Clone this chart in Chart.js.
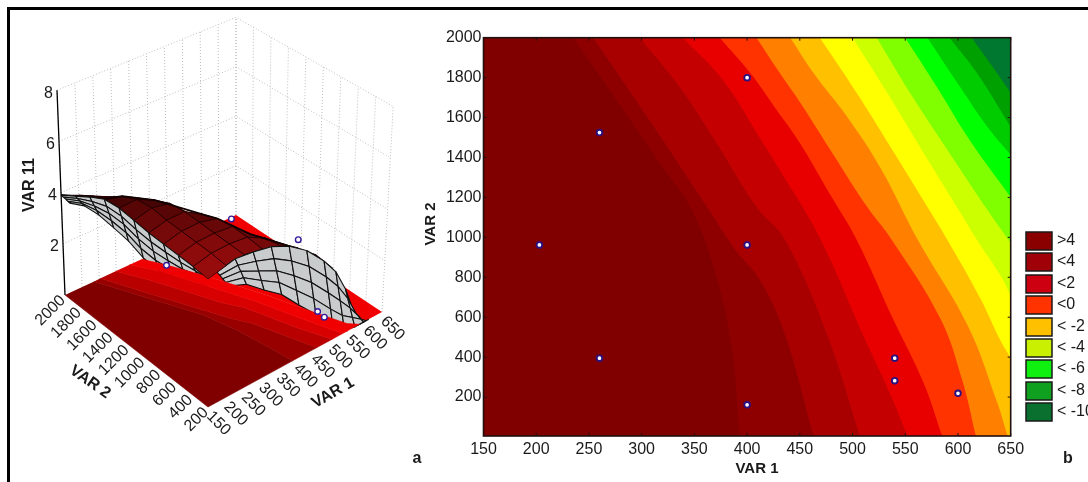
<!DOCTYPE html>
<html>
<head>
<meta charset="utf-8">
<title>VAR 11 response surface and contour</title>
<script src="https://cdn.jsdelivr.net/npm/chart.js@4"></script>
<style>
  html, body { margin: 0; padding: 0; background: #fff; overflow: hidden; width: 1088px; height: 482px; }
  #frame { position: absolute; left: 7px; top: 7px; width: 1100px; height: 500px; border: 3px solid #000; box-sizing: border-box; }
  canvas { position: absolute; top: 0; }
  #surface { left: 0; }
  #contour { left: 410px; }
</style>
</head>
<body>
<div id="frame"></div>
<canvas id="surface" width="440" height="482"></canvas>
<canvas id="contour" width="678" height="482"></canvas>
<script>
// axis ticks
const var1Ticks = [150, 200, 250, 300, 350, 400, 450, 500, 550, 600, 650]
const var2Ticks = [200, 400, 600, 800, 1000, 1200, 1400, 1600, 1800, 2000]
const zTicks = [2, 4, 6, 8]
const var2Min = 5

// contour boundaries, one list per level, lowest level first
const contourVar1 = [
  [235, 263, 317, 349, 372, 386, 393],
  [254, 286, 320, 362, 389, 412, 436, 463],
  [298, 336, 371, 409, 436, 476, 507],
  [339, 377, 415, 431, 469, 510, 536, 552],
  [374, 403, 428, 450, 479, 504, 538, 567, 585],
  [409, 431, 450, 479, 514, 536, 583, 604, 617],
  [441, 463, 495, 526, 562, 609, 637, 647],
  [469, 504, 536, 567, 590, 621, 640, 650],
  [500, 533, 564, 599, 618, 640, 650],
  [523, 557, 590, 628, 650],
  [550, 580, 611, 650],
  [571, 602, 628, 650],
  [592, 618, 650],
  [613, 633, 650]
]
const contourVar2 = [
  [2000, 1788, 1372, 1122, 780, 426, 5],
  [2000, 1753, 1488, 1152, 937, 787, 511, 5],
  [2000, 1753, 1473, 1152, 987, 511, 5],
  [2000, 1788, 1473, 1337, 997, 511, 211, 5],
  [2000, 1823, 1638, 1473, 1212, 987, 596, 276, 5],
  [2000, 1823, 1678, 1438, 1152, 997, 596, 286, 5],
  [2000, 1823, 1603, 1352, 987, 561, 176, 5],
  [2000, 1723, 1453, 1187, 987, 696, 486, 396],
  [2000, 1723, 1453, 1152, 987, 812, 711],
  [2000, 1703, 1438, 1137, 972],
  [2000, 1753, 1488, 1202],
  [2000, 1753, 1553, 1413],
  [2000, 1823, 1553],
  [2000, 1853, 1723]
]

// design points
const pointsVar1 = [400, 260, 203, 400, 260, 400, 540, 540, 600]
const pointsVar2 = [1800, 1525, 962, 962, 395, 161, 395, 282, 219]

// points visible on the 3d panel
const points3dVar1 = [400, 400, 400, 505, 530]
const points3dVar2 = [1800, 1000, 200, 380, 400]
const points3dZ = [0.05, 3.7, 4.67, 0.7, 0.25]

// surface heights, rows by var2, columns by var1, null where the surface is below the floor
const surfaceVar1 = [150, 200, 250, 300, 350, 400, 450, 500, 550, 600]
const surfaceVar2 = [200, 380, 560, 740, 920, 1100, 1280, 1460, 1640, 1820, 2000]
const surfaceZ = [
  [5.0, 5.15, 5.2, 5.05, 4.8, 4.35, 3.7, 2.8, 1.3, 0],
  [5.05, 5.2, 5.2, 5.1, 4.7, 4.1, 3.4, 2.4, 0.9, null],
  [5.05, 5.2, 5.2, 5.1, 4.45, 3.85, 3.0, 1.9, 0.4, null],
  [5.05, 5.2, 5.2, 5.0, 4.3, 3.5, 2.6, 1.4, 0, null],
  [5.05, 5.2, 5.2, 4.75, 3.95, 3.1, 2.1, 0.9, null, null],
  [5.1, 5.25, 5.1, 4.4, 3.6, 2.7, 1.6, 0.4, null, null],
  [5.15, 5.15, 4.8, 4.1, 3.25, 2.3, 1.1, 0, null, null],
  [5.05, 4.85, 4.45, 3.7, 2.85, 1.85, 0.7, null, null, null],
  [4.7, 4.4, 3.95, 3.25, 2.4, 1.35, 0.2, null, null, null],
  [4.3, 4.0, 3.5, 2.8, 1.9, 0.85, null, null, null, null],
  [3.9, 3.6, 3.05, 2.3, 1.4, 0.3, null, null, null, null]
]

// black crest of the surface, going from the left corner to the right
const crestVar1 = [150, 150, 150, 200, 250, 300, 300, 350, 400, 450, 500]
const crestVar2 = [2000, 1820, 1460, 1460, 1280, 920, 740, 560, 380, 200, 200]
const crestZ = [3.9, 4.3, 5.05, 4.85, 4.8, 4.75, 5.0, 4.45, 4.1, 3.7, 2.8]

// grey sheet under the var2 = 200 edge, columns by var1, rows top to bottom
const rightLobeVar1 = [175, 225, 275, 325, 375, 425, 475, 510, 540, 565, 580]
const rightLobeShift = [0, 8, 16, 24, 32]
const rightLobeZ = [
  [5.08, 5.23, 5.12, 4.96, 4.6, 4.06, 3.28, 2.6, 1.7, 0.7, 0],
  [4.9, 4.92, 4.7, 4.43, 3.97, 3.38, 2.6, 1.97, 1.27, 0.52, 0],
  [4.7, 4.62, 4.26, 3.9, 3.33, 2.7, 1.92, 1.35, 0.85, 0.35, 0],
  [4.5, 4.31, 3.83, 3.38, 2.7, 2.01, 1.23, 0.72, 0.42, 0.17, 0],
  [4.3, 4.0, 3.4, 2.85, 2.07, 1.33, 0.55, 0.1, 0, 0, 0]
]

// grey sheet under the var1 = 150 edge, columns by var2, rows top to bottom
const leftLobeVar2 = [2000, 1820, 1640, 1460, 1280, 1100, 920, 740, 560, 380, 200]
const leftLobeShift = [0, -27, -54, -81, -108]
const leftLobeZ = [
  [3.9, 4.3, 4.7, 5.05, 5.15, 5.1, 5.05, 5.05, 5.05, 5.05, 5.0],
  [3.89, 4.27, 4.59, 4.84, 4.89, 4.8, 4.76, 4.79, 4.84, 4.94, 5.0],
  [3.88, 4.24, 4.48, 4.63, 4.64, 4.5, 4.46, 4.53, 4.63, 4.83, 5.0],
  [3.86, 4.21, 4.37, 4.41, 4.38, 4.2, 4.17, 4.26, 4.41, 4.71, 5.0],
  [3.85, 4.18, 4.26, 4.2, 4.12, 3.9, 3.87, 4.0, 4.2, 4.6, 5.0]
]

// legend
const legendLabels = ['>4', '<4', '<2', '<0', '< -2', '< -4', '< -6', '< -8', '< -10']
const legendColors = ['#8a0000', '#a00008', '#cc0010', '#ff3300', '#ffc000', '#c8f000', '#10f010', '#10a020', '#0a7030']
const legendTops = [232, 253, 275, 296, 318, 339, 360, 382, 403]

const contourColors = ['#8e0000', '#a80000', '#c40000', '#e80000', '#ff3300', '#ff8000', '#ffc000', '#ffff00',
  '#ccff00', '#80ff00', '#00ff00', '#00cc00', '#00a000', '#007830']
const baseColor = '#800000'
const floorBandColors = ['#800000', '#980000', '#b80000', '#d80000', '#f00000']
const font = '"Liberation Sans", Arial, sans-serif'
const textColor = '#1a1a1a'

// corners of the 3d box in order front, right, left, back
const cornerX = [208, 382, 65, 236]
const cornerY = [407, 312, 295, 215]
const zLean = [0, 1.4, -1, 0]
const zRise = [25.6, 25.7, 25.6, 24.7]

function mix(corners, s, t) {
  return corners[0] * (1 - s) * (1 - t) + corners[1] * s * (1 - t) + corners[2] * (1 - s) * t + corners[3] * s * t
}

// 3d data position to the flat units of the hidden scales
function project(var1, var2, z) {
  const s = (var1 - 150) / 500
  const t = (var2 - 200) / 1800
  return {
    x: mix(cornerX, s, t) + z * mix(zLean, s, t),
    y: mix(cornerY, s, t) - z * mix(zRise, s, t)
  }
}

function polygon(points, fillColor, lineColor, lineWidth) {
  return {
    data: points.map(p => project(p[0], p[1], p[2])),
    showLine: true,
    fill: 'shape',
    backgroundColor: fillColor,
    borderColor: lineColor,
    borderWidth: lineWidth,
    pointRadius: 0
  }
}

function wireLine(points, color, dash, width) {
  return {
    data: points.map(p => project(p[0], p[1], p[2])),
    showLine: true,
    fill: false,
    borderColor: color,
    borderWidth: width,
    borderDash: dash,
    pointRadius: 0
  }
}

function floorCurve(level) {
  return contourVar1[level].map((v, i) => [v, Math.max(contourVar2[level][i], 200), 0])
}

function surfaceShade(s, t) {
  const k = Math.min(1, Math.pow((s + t) / 0.8, 1.3))
  const r = Math.round(150 - 115 * k)
  const g = Math.round(12 - 12 * k)
  return 'rgb(' + r + ',' + g + ',' + g + ')'
}

function buildSurfaceDatasets() {
  const sets = []
  // back walls
  const wallColor = '#bdbdbd'
  const dots = [1, 2]
  var1Ticks.forEach(v => sets.push(wireLine([[v, 2000, 0], [v, 2000, 8]], wallColor, dots, 1)))
  var2Ticks.forEach(v => sets.push(wireLine([[650, v, 0], [650, v, 8]], wallColor, dots, 1)))
  zTicks.forEach(z => {
    sets.push(wireLine([[150, 2000, z], [650, 2000, z], [650, 200, z]], wallColor, dots, 1))
  })

  // far part of the floor, below everything else
  const edge = floorCurve(4)
  sets.push(polygon(edge.concat([[650, 200, 0], [650, 2000, 0]]), '#f00000', '#f00000', 0))

  // top of the surface, far cells first
  const nearCells = []
  for (let r = surfaceVar2.length - 2; r >= 0; r--) {
    for (let c = surfaceVar1.length - 2; c >= 0; c--) {
      const row = surfaceZ[r]
      const next = surfaceZ[r + 1]
      if (row[c] === null || row[c + 1] === null || next[c] === null || next[c + 1] === null) continue
      const s = (surfaceVar1[c] - 150) / 500
      const t = (surfaceVar2[r] - 200) / 1800
      const cell = polygon([
        [surfaceVar1[c], surfaceVar2[r], row[c]],
        [surfaceVar1[c + 1], surfaceVar2[r], row[c + 1]],
        [surfaceVar1[c + 1], surfaceVar2[r + 1], next[c + 1]],
        [surfaceVar1[c], surfaceVar2[r + 1], next[c]],
        [surfaceVar1[c], surfaceVar2[r], row[c]]
      ], surfaceShade(s, t), '#1c0000', 0.7)
      if (r === 0 && c === 0) nearCells.push(cell)
      else sets.push(cell)
    }
  }
  sets.push(wireLine(crestVar1.map((v, i) => [v, crestVar2[i], crestZ[i]]), '#140000', [], 1.8))

  // grey sheets
  const grey = '#c8cccc'
  for (let k = 0; k < rightLobeShift.length - 1; k++) {
    for (let c = 0; c < rightLobeVar1.length - 1; c++) {
      sets.push(polygon([
        [rightLobeVar1[c] + rightLobeShift[k], 200, rightLobeZ[k][c]],
        [rightLobeVar1[c + 1] + rightLobeShift[k], 200, rightLobeZ[k][c + 1]],
        [rightLobeVar1[c + 1] + rightLobeShift[k + 1], 200, rightLobeZ[k + 1][c + 1]],
        [rightLobeVar1[c] + rightLobeShift[k + 1], 200, rightLobeZ[k + 1][c]],
        [rightLobeVar1[c] + rightLobeShift[k], 200, rightLobeZ[k][c]]
      ], grey, '#101010', 1.1))
    }
  }
  for (let k = 0; k < leftLobeShift.length - 1; k++) {
    for (let c = 0; c < leftLobeVar2.length - 1; c++) {
      sets.push(polygon([
        [150, leftLobeVar2[c] + leftLobeShift[k], leftLobeZ[k][c]],
        [150, leftLobeVar2[c + 1] + leftLobeShift[k], leftLobeZ[k][c + 1]],
        [150, leftLobeVar2[c + 1] + leftLobeShift[k + 1], leftLobeZ[k + 1][c + 1]],
        [150, leftLobeVar2[c] + leftLobeShift[k + 1], leftLobeZ[k + 1][c]],
        [150, leftLobeVar2[c] + leftLobeShift[k], leftLobeZ[k][c]]
      ], grey, '#101010', 1.1))
    }
  }

  // near part of the floor goes over the sheets, one band per contour level
  const curves = [[[150, 2000, 0], [150, 200, 0]], floorCurve(0), floorCurve(1), floorCurve(2), floorCurve(3), floorCurve(4)]
  floorBandColors.forEach((color, i) => {
    sets.push(polygon(curves[i].concat(curves[i + 1].slice().reverse()), color, color, 0.6))
  })
  nearCells.forEach(cell => sets.push(cell))

  // design points
  sets.push({
    data: points3dVar1.map((v, i) => project(v, points3dVar2[i], points3dZ[i])),
    showLine: false,
    pointRadius: 2.8,
    pointBackgroundColor: '#fff',
    pointBorderColor: '#35189a',
    pointBorderWidth: 1.4
  })
  // last dataset index is drawn first
  return sets.reverse()
}

function drawText(ctx, text, x, y, angle, align, style) {
  ctx.save()
  ctx.translate(x, y)
  ctx.rotate(angle * Math.PI / 180)
  ctx.font = style
  ctx.fillStyle = textColor
  ctx.textAlign = align
  ctx.textBaseline = 'middle'
  ctx.fillText(text, 0, 0)
  ctx.restore()
}

const surfaceAnnotations = {
  id: 'surfaceAnnotations',
  afterDraw(chart) {
    const ctx = chart.ctx
    const xs = chart.scales.x
    const ys = chart.scales.y
    const at = (v1, v2, z) => {
      const p = project(v1, v2, z)
      return [xs.getPixelForValue(p.x), ys.getPixelForValue(p.y)]
    }
    // z axis
    const a = at(150, 2000, 0)
    const b = at(150, 2000, 8)
    ctx.save()
    ctx.strokeStyle = '#000'
    ctx.lineWidth = 1.3
    ctx.beginPath()
    ctx.moveTo(a[0], a[1])
    ctx.lineTo(b[0], b[1])
    ctx.stroke()
    ctx.restore()
    zTicks.forEach(z => {
      const p = at(150, 2000, z)
      drawText(ctx, String(z), p[0] - 4, p[1] + 3, 0, 'right', '16px ' + font)
    })
    var2Ticks.forEach(v => {
      const p = at(150, v, 0)
      drawText(ctx, String(v), p[0] - 2, p[1] + 3, -45, 'right', '16px ' + font)
    })
    var1Ticks.forEach(v => {
      const p = at(v, 200, 0)
      drawText(ctx, String(v), p[0] + 1, p[1] + 7, 45, 'left', '16px ' + font)
    })
    const bold = 'bold 16px ' + font
    drawText(ctx, 'VAR 11', 30, 185, -90, 'center', bold)
    drawText(ctx, 'VAR 2', 90, 382, 35, 'center', bold)
    drawText(ctx, 'VAR 1', 333, 393, -30, 'center', bold)
    drawText(ctx, 'a', 417, 459, 0, 'center', 'bold 16px ' + font)
  }
}

new Chart(document.getElementById('surface'), {
  type: 'scatter',
  data: { datasets: buildSurfaceDatasets() },
  options: {
    responsive: false,
    animation: false,
    events: [],
    layout: { padding: 0, autoPadding: false },
    plugins: { legend: { display: false }, tooltip: { enabled: false } },
    scales: {
      x: { display: false, min: 0, max: 440 },
      y: { display: false, min: 0, max: 482, reverse: true }
    }
  },
  plugins: [surfaceAnnotations]
})

// closes a contour boundary round the upper right corner, outside the plot, so tension only bends the boundary
function contourShape(level) {
  const pts = contourVar1[level].map((x, i) => ({ x: x, y: contourVar2[level][i] }))
  const n = pts.length
  const head = { x: pts[0].x - (pts[1].x - pts[0].x) * 0.6, y: pts[0].y - (pts[1].y - pts[0].y) * 0.6 }
  const tail = { x: pts[n - 1].x + (pts[n - 1].x - pts[n - 2].x) * 0.6, y: pts[n - 1].y + (pts[n - 1].y - pts[n - 2].y) * 0.6 }
  return [{ x: 800, y: 2500 }, head].concat(pts, [tail, { x: 800, y: -500 }])
}

function buildContourDatasets() {
  const sets = [{
    data: [{ x: 150, y: var2Min }, { x: 150, y: 2000 }, { x: 650, y: 2000 }, { x: 650, y: var2Min }],
    showLine: true,
    fill: 'shape',
    backgroundColor: baseColor,
    borderWidth: 0,
    pointRadius: 0
  }]
  contourVar1.forEach((xs, level) => {
    sets.push({
      data: contourShape(level),
      showLine: true,
      fill: 'shape',
      tension: 0.4,
      capBezierPoints: false,
      backgroundColor: contourColors[level],
      borderWidth: 0,
      pointRadius: 0
    })
  })
  sets.push({
    data: pointsVar1.map((x, i) => ({ x: x, y: pointsVar2[i] })),
    showLine: false,
    pointRadius: 2.8,
    pointBackgroundColor: '#fff',
    pointBorderColor: '#2c1080',
    pointBorderWidth: 1.9
  })
  return sets.reverse()
}

const contourFrame = {
  id: 'contourFrame',
  afterDraw(chart) {
    const ctx = chart.ctx
    const area = chart.chartArea
    const xs = chart.scales.x
    const ys = chart.scales.y
    ctx.save()
    ctx.strokeStyle = '#201010'
    ctx.lineWidth = 1.6
    ctx.strokeRect(area.left, area.top, area.right - area.left, area.bottom - area.top)
    ctx.lineWidth = 1
    ctx.beginPath()
    var1Ticks.forEach(v => {
      const px = xs.getPixelForValue(v)
      ctx.moveTo(px, area.top)
      ctx.lineTo(px, area.top + 3)
      ctx.moveTo(px, area.bottom)
      ctx.lineTo(px, area.bottom - 3)
    })
    var2Ticks.forEach(v => {
      const py = ys.getPixelForValue(v)
      ctx.moveTo(area.left, py)
      ctx.lineTo(area.left + 3, py)
      ctx.moveTo(area.right, py)
      ctx.lineTo(area.right - 3, py)
    })
    ctx.stroke()

    // legend boxes, positions relative to this canvas
    legendLabels.forEach((label, i) => {
      ctx.fillStyle = legendColors[i]
      ctx.fillRect(616, legendTops[i], 26, 18)
      ctx.lineWidth = 1.5
      ctx.strokeStyle = '#1a1a1a'
      ctx.strokeRect(616, legendTops[i], 26, 18)
      drawText(ctx, label, 647, legendTops[i] + 9, 0, 'left', '16px ' + font)
    })
    ctx.restore()

    const bold = 'bold 15px ' + font
    drawText(ctx, 'VAR 1', 347, 469, 0, 'center', bold)
    drawText(ctx, 'VAR 2', 21, 224, -90, 'center', bold)
    drawText(ctx, 'b', 658, 459, 0, 'center', 'bold 16px ' + font)
  }
}

new Chart(document.getElementById('contour'), {
  type: 'scatter',
  data: { datasets: buildContourDatasets() },
  options: {
    responsive: false,
    animation: false,
    events: [],
    layout: { padding: { top: 37.7, right: 77.3, bottom: 0, left: 0 }, autoPadding: false },
    plugins: { legend: { display: false }, tooltip: { enabled: false } },
    scales: {
      x: {
        type: 'linear',
        min: 150,
        max: 650,
        grid: { display: false, drawTicks: false },
        border: { display: false },
        afterFit(scale) { scale.height = 46 },
        afterBuildTicks(scale) { scale.ticks = var1Ticks.map(v => ({ value: v })) },
        ticks: { color: textColor, font: { family: font, size: 16 }, padding: 4, maxRotation: 0, autoSkip: false, callback: v => String(v) }
      },
      y: {
        type: 'linear',
        min: var2Min,
        max: 2000,
        grid: { display: false, drawTicks: false },
        border: { display: false },
        afterFit(scale) { scale.width = 73.5 },
        afterBuildTicks(scale) { scale.ticks = var2Ticks.map(v => ({ value: v })) },
        ticks: { color: textColor, font: { family: font, size: 16 }, padding: 2, autoSkip: false, callback: v => String(v) }
      }
    }
  },
  plugins: [contourFrame]
})
</script>
</body>
</html>
